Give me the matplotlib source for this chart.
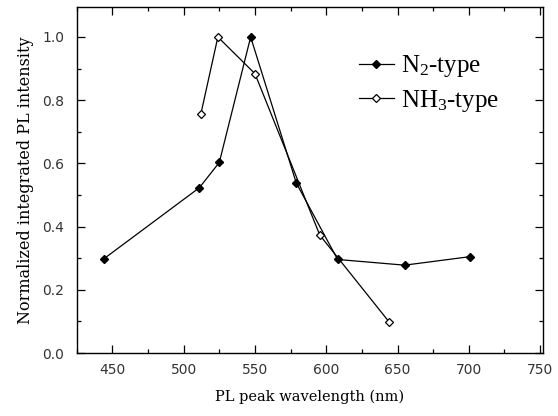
import matplotlib
matplotlib.use("Agg")
import matplotlib.pyplot as plt
from matplotlib.ticker import MultipleLocator

plt.rcParams["mathtext.fontset"] = "custom"
plt.rcParams["mathtext.rm"] = "Liberation Serif"
plt.rcParams["mathtext.it"] = "Liberation Serif:italic"

n2_x = [444, 511, 525, 547, 579, 608, 655, 701]
n2_y = [0.298, 0.523, 0.603, 1.0, 0.538, 0.296, 0.278, 0.305]
nh3_x = [512, 524, 550, 595.5, 644]
nh3_y = [0.755, 1.0, 0.884, 0.373, 0.099]

xticks = [450, 500, 550, 600, 650, 700, 750]
yticks = [0.0, 0.2, 0.4, 0.6, 0.8, 1.0]

fig = plt.figure(figsize=(5.58, 4.16), dpi=100)
ax = fig.add_axes([0.1375, 0.1514, 0.8355, 0.8326])

ax.plot(n2_x, n2_y, color="black", lw=0.9, marker="D", ms=4.5,
        mfc="black", mec="black", label=r"N$_\mathrm{2}$-type")
ax.plot(nh3_x, nh3_y, color="black", lw=0.9, marker="D", ms=4.5,
        mfc="white", mec="black", mew=0.9, label=r"NH$_\mathrm{3}$-type")

ax.set_xlim(425, 752)
ax.set_ylim(0, 1.096)
ax.set_xticks(xticks)
ax.set_yticks(yticks)
ax.set_yticklabels([f"{v:.1f}" for v in yticks])
ax.xaxis.set_minor_locator(MultipleLocator(25))
ax.yaxis.set_minor_locator(MultipleLocator(0.1))
ax.tick_params(which="both", direction="in", top=True, right=True,
               labelsize=10, width=0.9, colors="black")
ax.tick_params(which="major", length=6)
ax.tick_params(which="minor", length=3)
ax.tick_params(axis="x", pad=7)
ax.tick_params(axis="y", pad=9)
for lab in ax.get_xticklabels() + ax.get_yticklabels():
    lab.set_fontfamily("DejaVu Sans")
    lab.set_color("#333333")
for s in ax.spines.values():
    s.set_linewidth(1.0)

ax.set_xlabel("PL peak wavelength (nm)", family="DejaVu Serif", fontsize=10.5, labelpad=9)
ax.set_ylabel("Normalized integrated PL intensity", family="DejaVu Serif", fontsize=11.5, labelpad=6)

leg = ax.legend(loc="upper right", bbox_to_anchor=(0.955, 0.93), frameon=False,
                prop={"family": "Liberation Serif", "size": 18},
                handlelength=1.4, handletextpad=0.3, labelspacing=0.35,
                markerscale=0.8)

fig.savefig("out.png", dpi=100)
